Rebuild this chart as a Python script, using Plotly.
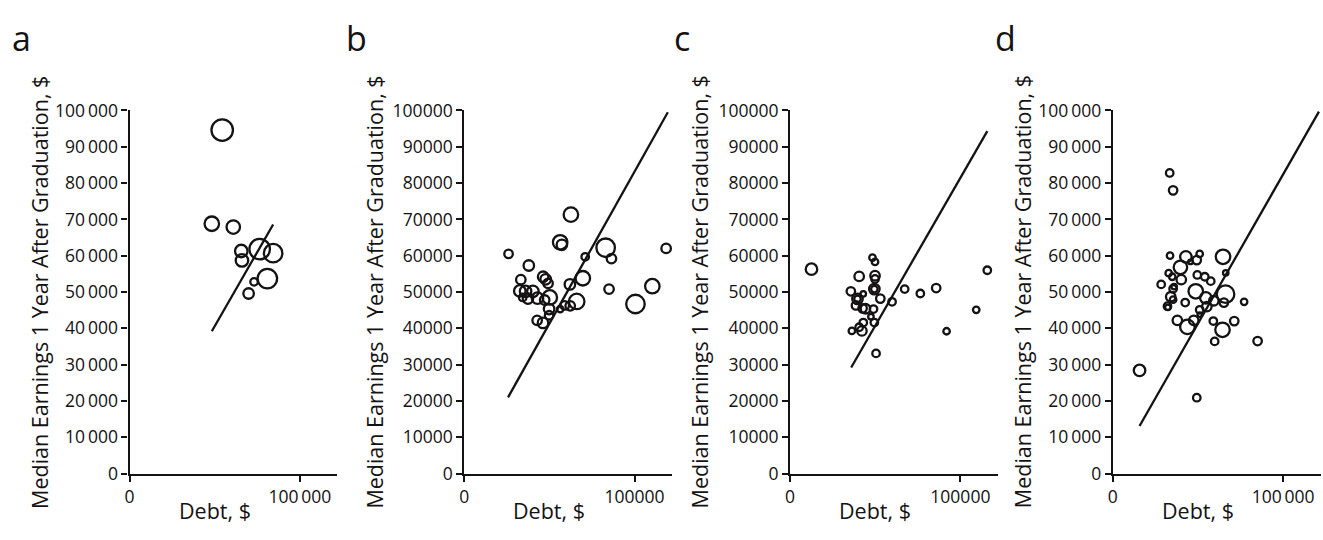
import plotly.graph_objects as go

# ---------------- data ----------------
a_debt = [54400, 48300, 60900, 65600, 66000, 76400, 84300, 80900, 73100, 69900]
a_earn = [94600, 68800, 67900, 61300, 58700, 61800, 60700, 53700, 52800, 49600]
a_w = [22, 15, 14, 13, 13, 21, 19, 20, 8, 11]
a_fit_x = [48300, 84300]
a_fit_y = [39200, 68600]

b_debt = [26000, 37900, 33200, 46300, 47800, 49200, 32600, 36000, 40300, 37400,
          34300, 43000, 47200, 50200, 49800, 49800, 42800, 46200, 56300, 57300,
          62600, 62000, 69600, 71000, 66000, 62200, 59000, 56300, 83000, 86400,
          85000, 100500, 110400, 118500]
b_earn = [60500, 57300, 53400, 54200, 53500, 52400, 50300, 50200, 50200, 48200,
          48500, 48300, 47800, 48500, 45300, 43600, 42200, 41500, 63700, 63000,
          71300, 52100, 53800, 59700, 47400, 46200, 46300, 45300, 62200, 59200,
          50800, 46700, 51600, 62000]
b_w = [9, 11, 10, 11, 11, 10, 12, 12, 12, 11,
       8, 12, 10, 15, 11, 9, 10, 11, 15, 11,
       15, 11, 15, 8, 16, 10, 9, 7, 19, 10,
       10, 19, 15, 10]
b_fit_x = [25700, 119500]
b_fit_y = [21000, 99500]

c_debt = [12600, 48400, 49900, 40600, 49900, 49900, 49500, 49500, 35700, 43000,
          39600, 39600, 38700, 42600, 44300, 49000, 53000, 59900, 47500, 43000,
          49500, 40600, 42200, 36300, 50500, 67300, 76500, 85800, 91900, 109300,
          115800]
c_earn = [56300, 59500, 58300, 54300, 54500, 53600, 50800, 50800, 50200, 49500,
          48100, 48100, 46300, 45500, 45400, 45300, 48200, 47300, 43200, 41600,
          41600, 40300, 39300, 39300, 33100, 50800, 49600, 51100, 39200, 45100,
          56000]
c_w = [12, 7, 7, 10, 10, 8, 11, 7, 9, 6,
       11, 7, 9, 9, 10, 8, 9, 8, 6, 8,
       8, 8, 10, 7, 8, 8, 8, 9, 7, 7,
       8]
c_fit_x = [35900, 115800]
c_fit_y = [29200, 94300]

d_debt = [15700, 49300, 33400, 35400, 33600, 42900, 39700, 51000, 49300, 45600,
          64700, 32800, 34900, 40200, 49600, 54000, 57500, 66300, 28400, 36000,
          35400, 34000, 35400, 32100, 32300, 42500, 48700, 54600, 59300, 66200,
          65200, 77100, 55200, 51000, 51000, 47500, 37900, 43800, 59000, 71300,
          64400, 59800, 85000]
d_earn = [28400, 20900, 82800, 78000, 60000, 59700, 56800, 60500, 58800, 58300,
          59700, 55200, 54200, 53400, 54700, 54200, 53000, 55300, 52100, 51500,
          50900, 48700, 47900, 46100, 45800, 47100, 50200, 48400, 47600, 49400,
          47100, 47300, 46000, 45100, 43800, 42200, 42200, 40400, 42000, 42000,
          39600, 36400, 36500]
d_w = [12, 8, 8, 9, 7, 12, 14, 7, 9, 5,
       15, 7, 7, 10, 8, 8, 8, 6, 8, 6,
       8, 10, 7, 8, 6, 8, 15, 12, 10, 18,
       9, 7, 10, 8, 5, 10, 10, 15, 8, 9,
       15, 8, 9]
d_fit_x = [15700, 121000]
d_fit_y = [13100, 99700]

panel_letters = ["a", "b", "c", "d"]
y_ticks = [0, 10000, 20000, 30000, 40000, 50000, 60000, 70000, 80000, 90000, 100000]
x_ticks = [0, 100000]
x_title = "Debt, $"
y_title = "Median Earnings 1 Year After Graduation, $"

# ---------------- layout geometry ----------------
W, H = 1323, 540
INK = "#141213"
FONT = "Open Sans"
axis_left_px = [125, 461, 788, 1112]
PX_PER_UNIT = 171 / 100000.0
X_MAX = 122000
y_bottom_px, y_top_px = 482, 102
dom_y = [(H - y_bottom_px) / H, (H - y_top_px) / H]


def fmt(v, sep):
    s = f"{v:,}"
    return s.replace(",", sep)


seps = ["\u2009", "", "", "\u2009"]

panels = [
    (a_debt, a_earn, a_w, a_fit_x, a_fit_y),
    (b_debt, b_earn, b_w, b_fit_x, b_fit_y),
    (c_debt, c_earn, c_w, c_fit_x, c_fit_y),
    (d_debt, d_earn, d_w, d_fit_x, d_fit_y),
]

fig = go.Figure()
annotations = []
layout_axes = {}
for i, (xs, ys, ws, fx, fy) in enumerate(panels):
    n = "" if i == 0 else str(i + 1)
    xa, ya = "x" + n, "y" + n
    fig.add_trace(go.Scatter(
        x=fx, y=fy, mode="lines", xaxis=xa, yaxis=ya,
        line=dict(color=INK, width=2.3), showlegend=False, hoverinfo="skip"))
    fig.add_trace(go.Scatter(
        x=xs, y=ys, mode="markers", xaxis=xa, yaxis=ya,
        marker=dict(symbol="circle-open", size=[w - 0.5 for w in ws], color=INK,
                    opacity=1, line=dict(width=2.3, color=INK)),
        showlegend=False))
    x0 = axis_left_px[i]
    x1 = x0 + X_MAX * PX_PER_UNIT
    common = dict(showline=True, linewidth=2.2, linecolor=INK, ticks="outside",
                  ticklen=6, tickwidth=2, tickcolor=INK, showgrid=False,
                  zeroline=False, tickfont=dict(family=FONT, size=17.5, color=INK))
    layout_axes["xaxis" + n] = dict(domain=[x0 / W, x1 / W], range=[0, X_MAX],
                                   anchor=ya, tickvals=x_ticks,
                                   ticktext=[fmt(v, seps[i]) for v in x_ticks], **common)
    layout_axes["yaxis" + n] = dict(domain=dom_y, range=[0, 100000], anchor=xa,
                                   tickvals=y_ticks,
                                   ticktext=[fmt(v, seps[i]) for v in y_ticks], **common)
    # panel letter
    annotations.append(dict(text=panel_letters[i], x=(x0 - 108) / W, y=1 - 26 / H,
                            xref="paper", yref="paper", showarrow=False,
                            xanchor="center", yanchor="middle",
                            font=dict(family=FONT, size=34, color=INK)))
    # y title
    annotations.append(dict(text=y_title, x=(x0 - 91) / W,
                            y=1 - ((y_top_px + y_bottom_px) / 2) / H,
                            xref="paper", yref="paper", showarrow=False, textangle=-90,
                            xanchor="center", yanchor="middle",
                            font=dict(family=FONT, size=21.5, color=INK)))
    # x title
    annotations.append(dict(text=x_title, x=(x0 + 50000 * PX_PER_UNIT) / W, y=1 - 521 / H,
                            xref="paper", yref="paper", showarrow=False,
                            xanchor="center", yanchor="middle",
                            font=dict(family=FONT, size=21.5, color=INK)))

fig.update_layout(width=W, height=H, margin=dict(l=0, r=0, t=0, b=0),
                  plot_bgcolor="white", paper_bgcolor="white",
                  annotations=annotations, **layout_axes)
fig.write_html("out.html")
